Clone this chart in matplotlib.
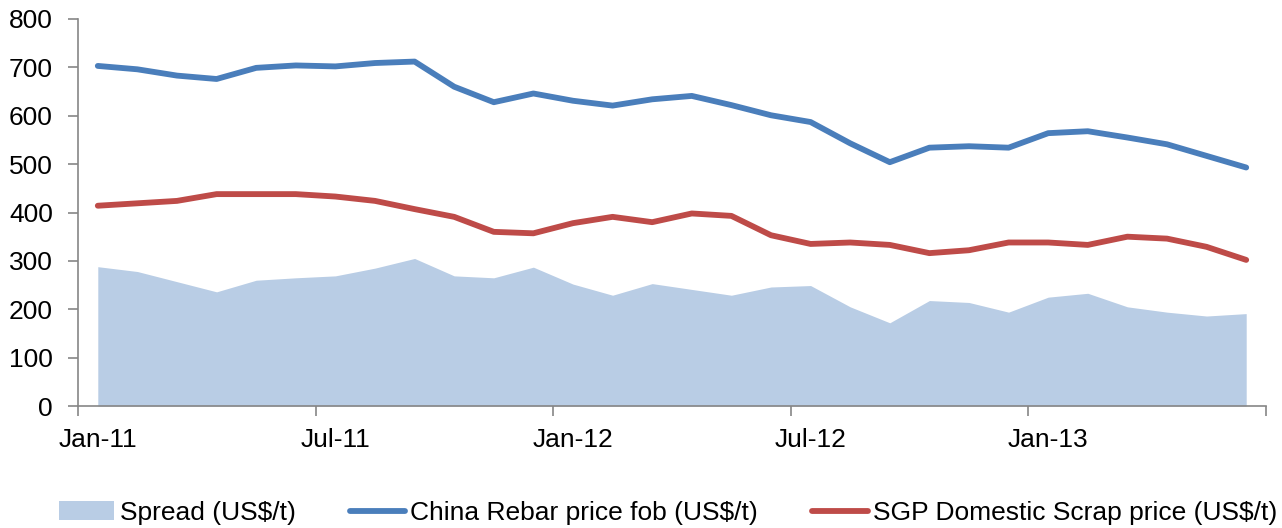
import matplotlib
matplotlib.use("Agg")
import matplotlib.pyplot as plt
import numpy as np

months = ["Jan-11","Feb-11","Mar-11","Apr-11","May-11","Jun-11","Jul-11","Aug-11","Sep-11","Oct-11","Nov-11","Dec-11",
          "Jan-12","Feb-12","Mar-12","Apr-12","May-12","Jun-12","Jul-12","Aug-12","Sep-12","Oct-12","Nov-12","Dec-12",
          "Jan-13","Feb-13","Mar-13","Apr-13","May-13","Jun-13"]
rebar = [703,696,683,676,699,704,702,709,712,660,628,646,631,621,634,641,622,601,587,543,504,534,537,534,564,568,555,541,517,493]
scrap = [414,419,424,438,438,438,433,424,407,391,360,357,378,391,380,398,393,353,335,338,333,316,322,338,338,333,350,346,329,302]
spread = [288,278,257,236,260,265,269,285,305,269,265,287,252,229,253,241,229,246,249,205,172,218,214,194,225,233,205,194,186,191]
label_months = ["Jan-11","Jul-11","Jan-12","Jul-12","Jan-13"]

plt.rcParams['font.family'] = ['Liberation Sans', 'DejaVu Sans']

fig = plt.figure(figsize=(12.82, 5.28), dpi=100)
ax = fig.add_axes([78/1282, 1-406/528, (1266-78)/1282, (406-19)/528])

x = np.arange(len(months))
ax.fill_between(x, 0, spread, color='#B9CDE5', linewidth=0, label='Spread (US$/t)')
ax.plot(x, rebar, color='#4A7EBB', lw=4.2, solid_capstyle='round', label='China Rebar price fob (US$/t)')
ax.plot(x, scrap, color='#BE4B48', lw=4.2, solid_capstyle='round', label='SGP Domestic Scrap price (US$/t)')

ax.set_xlim(-0.5, len(months) - 0.5)
ax.set_ylim(0, 800)
ax.set_yticks(range(0, 801, 100))

# major ticks at period boundaries (no labels), labels on the month slot
ax.set_xticks(np.arange(-0.5, len(months), 6))
ax.set_xticklabels([])
ax.set_xticks([months.index(m) for m in label_months], minor=True)
ax.set_xticklabels(label_months, minor=True)

for s in ['top', 'right']:
    ax.spines[s].set_visible(False)
for s in ['left', 'bottom']:
    ax.spines[s].set_color('#868686')
    ax.spines[s].set_linewidth(1.2)
ax.tick_params(axis='both', which='major', colors='#868686', labelcolor='black', labelsize=19,
               length=7, width=1.2, direction='out')
ax.tick_params(axis='y', pad=11)
ax.tick_params(axis='x', which='minor', length=0, labelsize=19, labelcolor='black', pad=16)

handles, labels = ax.get_legend_handles_labels()
fig.legend(handles, labels, loc='center', bbox_to_anchor=(668/1282, 1-513/528), ncol=3, frameon=False,
           fontsize=19, handlelength=2.1, handleheight=0.75, columnspacing=2.05, handletextpad=0.2,
           borderpad=0, borderaxespad=0)

fig.savefig('out.png', dpi=100)
